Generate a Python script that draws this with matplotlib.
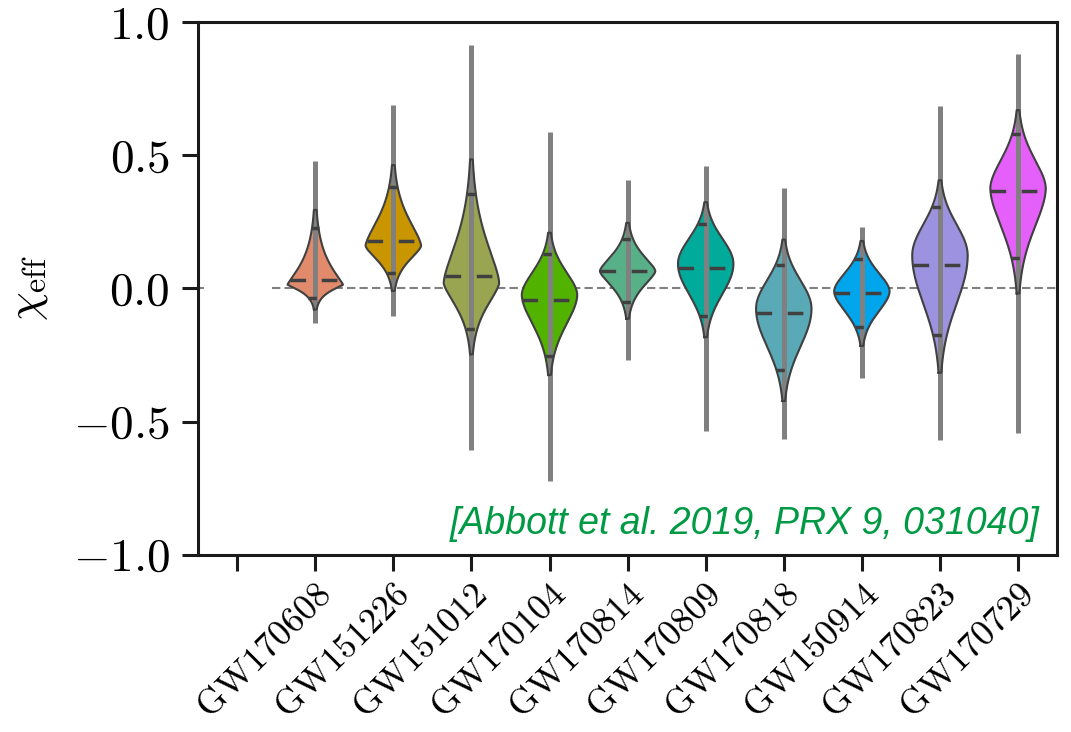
import matplotlib
matplotlib.use('Agg')
import matplotlib.pyplot as plt
import numpy as np

plt.rcParams['mathtext.fontset'] = 'cm'
plt.rcParams['font.family'] = 'serif'
plt.rcParams['font.serif'] = ['cmr10']
plt.rcParams['axes.unicode_minus'] = False

events = ['GW170608', 'GW151226', 'GW151012', 'GW170104', 'GW170814',
          'GW170809', 'GW170818', 'GW150914', 'GW170823', 'GW170729']
# peak of each violin, visible tips, dashed lines, grey bars
modes = [0.014, 0.160, 0.021, -0.024, 0.065, 0.092, -0.076, -0.011, 0.124, 0.376]
tip_hi = [0.247, 0.421, 0.42, 0.182, 0.221, 0.299, 0.156, 0.156, 0.376, 0.635]
tip_lo = [-0.063, 0.014, -0.21, -0.29, -0.089, -0.154, -0.386, -0.192, -0.270, 0.027]
medians = [0.031, 0.178, 0.047, -0.044, 0.065, 0.076, -0.092, -0.018, 0.087, 0.367]
q_hi = [0.225, 0.380, 0.354, 0.128, 0.185, 0.240, 0.089, 0.109, 0.305, 0.580]
q_lo = [-0.035, 0.056, -0.154, -0.253, -0.050, -0.102, -0.305, -0.145, -0.176, 0.114]
bar_lo = [-0.128, -0.105, -0.606, -0.722, -0.270, -0.535, -0.567, -0.335, -0.570, -0.541]
bar_hi = [0.480, 0.690, 0.913, 0.587, 0.405, 0.460, 0.376, 0.229, 0.686, 0.880]
peak_shape = [1.2, 1.5, 1.5, 1.8, 1.5, 2.0, 2.0, 1.8, 2.0, 1.8]
colors = ['#e28b6c', '#c99600', '#9aa552', '#52b200', '#58b088',
          '#00ab9b', '#59a9b6', '#00a5eb', '#9d92e0', '#e55ffa']

half_w = 0.355
edge = '#404040'

fig = plt.figure(figsize=(10.71, 7.32), dpi=100)
ax = fig.add_axes([0.185, 0.242, 0.802, 0.728])

ax.hlines(0, -0.5, -0.43, colors='#808080', lw=1.5, linestyles=(0, (4, 2)), zorder=0)
ax.hlines(0, 0.44, 10.5, colors='#808080', lw=1.5, linestyles=(0, (4, 2)), zorder=0)

def width_at(y, m, s_lo, s_hi, p):
    z = np.where(y > m, (y - m) / s_hi, (m - y) / s_lo)
    return half_w * np.exp(-0.5 * np.abs(z) ** p)

for i, ev in enumerate(events):
    x = i + 1
    p = peak_shape[i]
    zt = 4.8 ** (1 / p)
    ze = 6.0 ** (1 / p)
    s_hi = (tip_hi[i] - modes[i]) / zt
    s_lo = (modes[i] - tip_lo[i]) / zt
    yy = np.linspace(modes[i] - ze * s_lo, modes[i] + ze * s_hi, 300)
    ww = width_at(yy, modes[i], s_lo, s_hi, p)
    ax.fill_betweenx(yy, x - ww, x + ww, color=colors[i], lw=0, zorder=1)
    ax.plot(np.r_[x - ww, (x + ww)[::-1], x - ww[0]], np.r_[yy, yy[::-1], yy[0]],
            color=edge, lw=1.5, zorder=3)
    ax.vlines(x, bar_lo[i], bar_hi[i], color='#808080', lw=3.6, zorder=2)
    wm = width_at(np.array(medians[i]), modes[i], s_lo, s_hi, p)
    ax.plot([x - wm, x + wm], [medians[i]] * 2, color=edge, lw=2.5,
            linestyle=(0, (4.5, 4.5)), zorder=3)
    for q in (q_hi[i], q_lo[i]):
        wq = width_at(np.array(q), modes[i], s_lo, s_hi, p)
        ax.plot([x - wq, x + wq], [q, q], color=edge, lw=2.5,
                linestyle=(0, (2.4, 2.4)), zorder=3)

ax.set_xlim(-0.5, 10.5)
ax.set_ylim(-1, 1)
ax.set_xticks(range(11))
ax.set_xticklabels([''] + events, rotation=45, ha='right', rotation_mode='anchor',
                   fontsize=26)
ax.set_yticks([-1, -0.5, 0, 0.5, 1])
ax.set_yticklabels(['$-1.0$', '$-0.5$', '$0.0$', '$0.5$', '$1.0$'], fontsize=34)
ax.tick_params(axis='both', length=11.5, width=2.2, color='#1a1a1a')
ax.tick_params(axis='y', pad=9)
ax.tick_params(axis='x', pad=5)
for sp in ax.spines.values():
    sp.set_linewidth(2.2)
    sp.set_color('#1a1a1a')
ax.set_ylabel(r'$\chi_{\rm eff}$', fontsize=33)
ax.yaxis.set_label_coords(-0.172, 0.5)

ax.text(0.98, 0.04, '[Abbott et al. 2019, PRX 9, 031040]', transform=ax.transAxes,
        ha='right', va='baseline', color='#009a44', fontsize=27, style='italic',
        family='Liberation Sans')

fig.savefig('out.png', dpi=100)
